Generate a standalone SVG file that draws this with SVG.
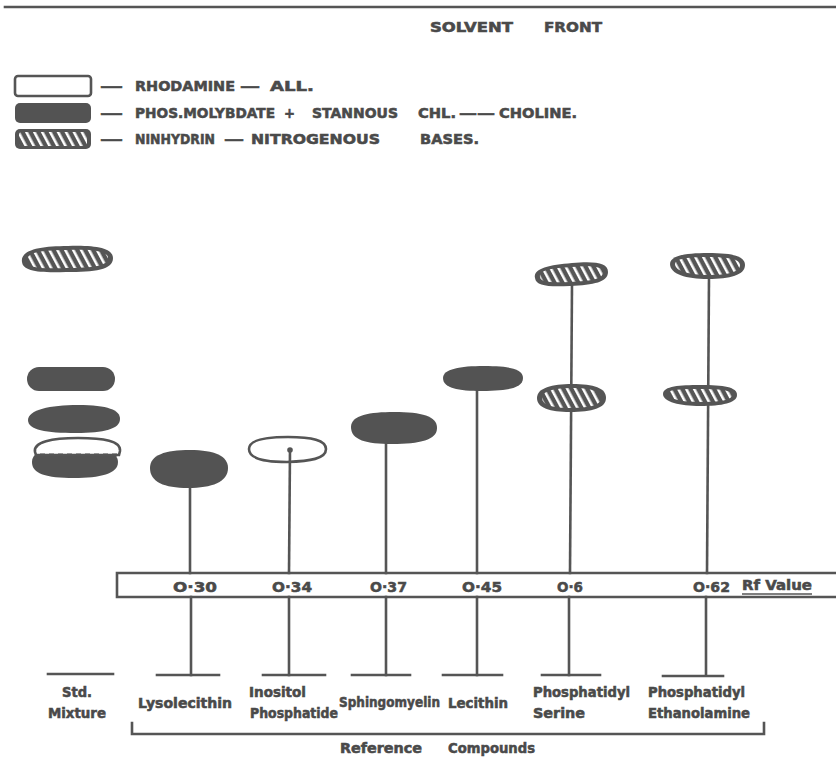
<svg xmlns="http://www.w3.org/2000/svg" width="836" height="760" viewBox="0 0 836 760">
<style>
.t{font-family:"DejaVu Sans","Liberation Sans",sans-serif;font-weight:bold;fill:#4a4a4a;stroke:#4a4a4a;stroke-width:0.55;font-size:13.5px}
.lg{font-size:14px}
.rf{font-size:14.5px}
.ln{stroke:#555;stroke-width:2.6;fill:none;stroke-linecap:square}
.fill{fill:#535353;filter:url(#soft)}
.out{fill:#fff;stroke:#555;stroke-width:2.6}
.hdark{fill:#555}
.hin{fill:url(#hatch)}
</style>
<defs>
<filter id="soft" x="-10%" y="-20%" width="120%" height="140%"><feGaussianBlur stdDeviation="0.6"/></filter>
<pattern id="hatch" width="7" height="10" patternUnits="userSpaceOnUse" patternTransform="rotate(-28)">
<rect x="2" y="0" width="2.6" height="10" fill="#fff"/>
</pattern>
</defs>
<rect width="836" height="760" fill="#fff"/>

<!-- solvent front -->
<line class="ln" x1="5" y1="7" x2="836" y2="7" stroke-width="3"/>
<text class="t lg" x="430" y="32" textLength="83" lengthAdjust="spacingAndGlyphs">SOLVENT</text>
<text class="t lg" x="544" y="32" textLength="58" lengthAdjust="spacingAndGlyphs">FRONT</text>

<!-- legend -->
<g id="legend">
<rect class="out" x="15" y="76" width="76" height="20" rx="3"/>
<rect class="fill" x="15" y="103" width="76" height="20" rx="5"/>
<rect class="hdark" x="15" y="129" width="76" height="20" rx="5"/>
<rect class="hin" x="19" y="132" width="68" height="14" rx="3"/>
<text class="t lg" x="100" y="91" textLength="23" lengthAdjust="spacingAndGlyphs">—</text>
<text class="t lg" x="135" y="91" textLength="100" lengthAdjust="spacingAndGlyphs">RHODAMINE</text>
<text class="t lg" x="240" y="91" textLength="20" lengthAdjust="spacingAndGlyphs">—</text>
<text class="t lg" x="270" y="91" textLength="44" lengthAdjust="spacingAndGlyphs">ALL.</text>
<text class="t lg" x="100" y="118" textLength="23" lengthAdjust="spacingAndGlyphs">—</text>
<text class="t lg" x="135" y="118" textLength="140" lengthAdjust="spacingAndGlyphs">PHOS.MOLYBDATE</text>
<text class="t lg" x="284" y="118" textLength="11" lengthAdjust="spacingAndGlyphs">+</text>
<text class="t lg" x="312" y="118" textLength="86" lengthAdjust="spacingAndGlyphs">STANNOUS</text>
<text class="t lg" x="418" y="118" textLength="38" lengthAdjust="spacingAndGlyphs">CHL.</text>
<text class="t lg" x="459" y="118" textLength="36" lengthAdjust="spacingAndGlyphs">——</text>
<text class="t lg" x="499" y="118" textLength="78" lengthAdjust="spacingAndGlyphs">CHOLINE.</text>
<text class="t lg" x="100" y="144" textLength="23" lengthAdjust="spacingAndGlyphs">—</text>
<text class="t lg" x="135" y="144" textLength="80" lengthAdjust="spacingAndGlyphs">NINHYDRIN</text>
<text class="t lg" x="224" y="144" textLength="20" lengthAdjust="spacingAndGlyphs">—</text>
<text class="t lg" x="251" y="144" textLength="129" lengthAdjust="spacingAndGlyphs">NITROGENOUS</text>
<text class="t lg" x="420" y="144" textLength="59" lengthAdjust="spacingAndGlyphs">BASES.</text>
</g>

<!-- connectors -->
<g id="connectors">
<line class="ln" x1="190" y1="485" x2="190" y2="573"/>
<line class="ln" x1="290" y1="450" x2="289" y2="573"/>
<line class="ln" x1="386" y1="440" x2="386" y2="573"/>
<line class="ln" x1="477" y1="388" x2="477" y2="573"/>
<line class="ln" x1="572" y1="284" x2="570" y2="573"/>
<line class="ln" x1="709" y1="276" x2="707" y2="573"/>
<line class="ln" x1="191" y1="597" x2="191" y2="675"/>
<line class="ln" x1="289" y1="597" x2="289" y2="675"/>
<line class="ln" x1="386" y1="597" x2="386" y2="675"/>
<line class="ln" x1="477" y1="597" x2="477" y2="675"/>
<line class="ln" x1="569" y1="597" x2="569" y2="675"/>
<line class="ln" x1="706" y1="597" x2="706" y2="675"/>
<line class="ln" x1="48" y1="674" x2="113" y2="674" stroke-width="3" stroke-linecap="butt"/>
<line class="ln" x1="157" y1="675" x2="219" y2="675" stroke-width="3" stroke-linecap="butt"/>
<line class="ln" x1="263" y1="675" x2="325" y2="675" stroke-width="3" stroke-linecap="butt"/>
<line class="ln" x1="352" y1="675" x2="410" y2="675" stroke-width="3" stroke-linecap="butt"/>
<line class="ln" x1="443" y1="675" x2="502" y2="675" stroke-width="3" stroke-linecap="butt"/>
<line class="ln" x1="542" y1="675" x2="600" y2="675" stroke-width="3" stroke-linecap="butt"/>
<line class="ln" x1="663" y1="676" x2="723" y2="676" stroke-width="3" stroke-linecap="butt"/>
</g>

<!-- Rf bar -->
<g id="rf-bar">
<path class="ln" d="M836,573 H117 V597 H836" stroke-linecap="butt"/>
<text class="t rf" x="173" y="592" textLength="44" lengthAdjust="spacingAndGlyphs">O·30</text>
<text class="t rf" x="272" y="592" textLength="40" lengthAdjust="spacingAndGlyphs">O·34</text>
<text class="t rf" x="370" y="592" textLength="37" lengthAdjust="spacingAndGlyphs">O·37</text>
<text class="t rf" x="462" y="592" textLength="40" lengthAdjust="spacingAndGlyphs">O·45</text>
<text class="t rf" x="557" y="592" textLength="26" lengthAdjust="spacingAndGlyphs">O·6</text>
<text class="t rf" x="693" y="592" textLength="37" lengthAdjust="spacingAndGlyphs">O·62</text>
<text class="t" x="742" y="590" textLength="70" lengthAdjust="spacingAndGlyphs" font-size="12">Rf  Value</text>
<line x1="742" y1="594" x2="812" y2="594" stroke="#555" stroke-width="1.6"/>
</g>

<!-- Std mixture -->
<g id="std-mixture">
<path class="hdark" d="M22,262 C20,250 40,246 68,246 C95,245 113,248 113,258 C113,270 95,272 66,272 C38,273 23,271 22,262 Z"/>
<path class="hin" d="M27,261 C26,252 42,250 68,250 C92,249 108,251 108,258 C108,266 93,268 66,268 C40,269 28,268 27,261 Z"/>
<rect class="fill" x="27" y="367" width="88" height="24" rx="12"/>
<path class="fill" d="M28,420 C28,410 50,405 78,405 C108,405 120,410 120,419 C120,429 104,433 76,433 C46,433 28,430 28,420 Z"/>
<path class="fill" d="M32,462 C32,450 50,447 76,447 C104,447 118,452 118,462 C118,474 100,478 74,478 C46,478 32,474 32,462 Z"/>
<path class="out" d="M35,452 C33,442 52,438 78,438 C104,438 121,441 120,451 L119,455 L36,455 Z"/>
<line x1="40" y1="455" x2="118" y2="455" stroke="#555" stroke-width="3" stroke-dasharray="5,4"/>
<text class="t" x="62" y="697" textLength="30" lengthAdjust="spacingAndGlyphs">Std.</text>
<text class="t" x="48" y="718" textLength="58" lengthAdjust="spacingAndGlyphs">Mixture</text>
</g>

<g id="lysolecithin">
<path class="fill" d="M150,468 C150,455 165,450 190,450 C215,450 228,456 228,468 C228,482 212,488 188,488 C164,488 150,482 150,468 Z"/>
<text class="t" x="138" y="708" textLength="94" lengthAdjust="spacingAndGlyphs">Lysolecithin</text>
</g>

<g id="inositol-phosphatide">
<path d="M249,449 C249,440 265,437 288,437 C312,437 326,440 326,449 C326,459 310,461 287,462 C264,462 249,458 249,449 Z" fill="none" stroke="#555" stroke-width="2.6"/>
<circle cx="290" cy="450" r="2.8" fill="#555"/>
<text class="t" x="249" y="697" textLength="57" lengthAdjust="spacingAndGlyphs">Inositol</text>
<text class="t" x="250" y="718" textLength="88" lengthAdjust="spacingAndGlyphs">Phosphatide</text>
</g>

<g id="sphingomyelin">
<path class="fill" d="M351,427 C351,415 370,412 394,412 C422,412 437,416 437,428 C437,440 420,444 392,444 C366,444 351,440 351,427 Z"/>
<text class="t" x="339" y="707" textLength="101" lengthAdjust="spacingAndGlyphs">Sphingomyelin</text>
</g>

<g id="lecithin">
<path class="fill" d="M443,378 C443,369 460,366 484,366 C510,366 523,369 523,378 C523,388 508,391 482,391 C458,391 443,388 443,378 Z"/>
<text class="t" x="448" y="708" textLength="60" lengthAdjust="spacingAndGlyphs">Lecithin</text>
</g>

<g id="phosphatidyl-serine">
<path class="hdark" d="M535,278 C533,268 550,265 572,263 C596,261 608,263 608,272 C608,282 594,285 570,286 C548,287 536,286 535,278 Z"/>
<path class="hin" d="M540,277 C539,270 552,268 572,267 C593,265 603,267 603,272 C603,279 592,281 570,282 C551,283 540,282 540,277 Z"/>
<path class="hdark" d="M537,398 C537,388 552,384 572,384 C594,384 606,388 606,398 C606,408 592,412 570,412 C550,412 537,408 537,398 Z"/>
<path class="hin" d="M542,398 C542,391 555,388 572,388 C590,388 601,391 601,398 C601,405 590,408 570,408 C553,408 542,405 542,398 Z"/>
<text class="t" x="533" y="697" textLength="97" lengthAdjust="spacingAndGlyphs">Phosphatidyl</text>
<text class="t" x="533" y="718" textLength="52" lengthAdjust="spacingAndGlyphs">Serine</text>
</g>

<g id="phosphatidyl-ethanolamine">
<path class="hdark" d="M670,264 C670,255 688,253 708,253 C732,253 745,256 745,265 C745,275 730,279 708,279 C686,279 670,274 670,264 Z"/>
<path class="hin" d="M675,264 C675,258 690,257 708,257 C728,257 740,259 740,265 C740,272 728,275 708,275 C689,275 675,271 675,264 Z"/>
<path class="hdark" d="M663,394 C663,386 680,385 700,385 C724,385 737,387 737,395 C737,403 722,406 700,406 C680,406 663,402 663,394 Z"/>
<path class="hin" d="M668,394 C668,389 682,389 700,389 C720,389 732,390 732,395 C732,400 720,402 700,402 C682,402 668,399 668,394 Z"/>
<text class="t" x="648" y="697" textLength="97" lengthAdjust="spacingAndGlyphs">Phosphatidyl</text>
<text class="t" x="648" y="718" textLength="102" lengthAdjust="spacingAndGlyphs">Ethanolamine</text>
</g>

<g id="reference-compounds">
<path class="ln" d="M132,723 V734 H764 V723" stroke-linecap="butt"/>
<text class="t" x="340" y="753" textLength="82" lengthAdjust="spacingAndGlyphs">Reference</text>
<text class="t" x="448" y="753" textLength="87" lengthAdjust="spacingAndGlyphs">Compounds</text>
</g>
</svg>
